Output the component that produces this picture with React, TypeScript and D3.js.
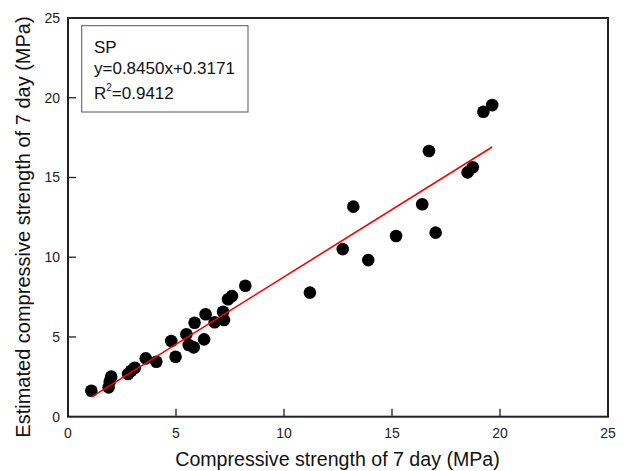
import React from "react";
import * as d3 from "d3";

const xValues = [1.08, 1.88, 1.93, 2.0, 2.78, 2.93, 3.09, 3.6, 4.09, 4.78, 4.98, 5.48, 5.59, 5.82, 5.86, 6.3, 6.37, 6.79, 7.18, 7.22, 7.41, 7.59, 8.21, 11.2, 12.72, 13.21, 13.9, 15.19, 16.4, 16.71, 17.02, 18.5, 18.74, 19.23, 19.64];
const yValues = [1.63, 1.84, 2.19, 2.51, 2.68, 2.88, 3.07, 3.66, 3.45, 4.75, 3.76, 5.17, 4.5, 4.35, 5.89, 4.85, 6.42, 5.92, 6.58, 6.06, 7.36, 7.57, 8.21, 7.78, 10.51, 13.17, 9.82, 11.33, 13.32, 16.66, 11.54, 15.32, 15.64, 19.12, 19.54];
const slope = 0.845;
const intercept = 0.3171;
const xTicks = [0, 5, 10, 15, 20, 25];
const yTicks = [0, 5, 10, 15, 20, 25];
const annotation = ["SP", "y=0.8450x+0.3171", "R", "=0.9412"];

const W = 628, H = 471;
const L = 68, R = 608, T = 18, B = 416.7;

export default function App() {
  const x = d3.scaleLinear().domain([0, 25]).range([L, R]);
  const y = d3.scaleLinear().domain([0, 25]).range([B, T]);
  const xmin = d3.min(xValues)!;
  const xmax = d3.max(xValues)!;
  const line = d3.line<number>().x((d) => x(d)).y((d) => y(slope * d + intercept));
  const font = "Arial, 'Liberation Sans', sans-serif";
  return (
    <svg width={W} height={H} style={{ position: "absolute", left: 0, top: 0 }} fontFamily={font}>
      <rect x={0} y={0} width={W} height={H} fill="#fff" />
      {xTicks.map((t) => (
        <g key={"x" + t}>
          {t > 0 && t < 25 && <line x1={x(t)} x2={x(t)} y1={B} y2={B - 8} stroke="#222" strokeWidth={1.3} />}
          <text x={x(t)} y={B + 21} fontSize={14} textAnchor="middle" fill="#222">{t}</text>
        </g>
      ))}
      {yTicks.map((t) => (
        <g key={"y" + t}>
          {t > 0 && t < 25 && <line x1={L} x2={L + 8} y1={y(t)} y2={y(t)} stroke="#222" strokeWidth={1.3} />}
          <text x={L - 8} y={y(t) + 5} fontSize={14} textAnchor="end" fill="#222">{t}</text>
        </g>
      ))}
      <rect x={L} y={T} width={R - L} height={B - T} fill="none" stroke="#222" strokeWidth={2} />
      <rect x={81.7} y={25.7} width={166.3} height={86.3} fill="#fff" stroke="#555" strokeWidth={1} />
      <text x={94} y={53.3} fontSize={17} fill="#111">{annotation[0]}</text>
      <text x={94} y={74} fontSize={17} fill="#111">{annotation[1]}</text>
      <text x={94} y={99} fontSize={17} fill="#111">
        {annotation[2]}
        <tspan fontSize={10} dy={-8}>2</tspan>
        <tspan dy={8}>{annotation[3]}</tspan>
      </text>
      {xValues.map((v, i) => (
        <circle key={i} cx={x(v)} cy={y(yValues[i])} r={6.3} fill="#000" />
      ))}
      <path d={line([xmin, xmax]) || ""} stroke="#ff0000" strokeWidth={1.6} fill="none" />
      <text x={337.5} y={466} fontSize={19.6} textAnchor="middle" fill="#111">Compressive strength of 7 day (MPa)</text>
      <text transform={`translate(30, 227) rotate(-90)`} fontSize={20} textAnchor="middle" fill="#111">
        Estimated compressive strength of 7 day (MPa)
      </text>
    </svg>
  );
}
